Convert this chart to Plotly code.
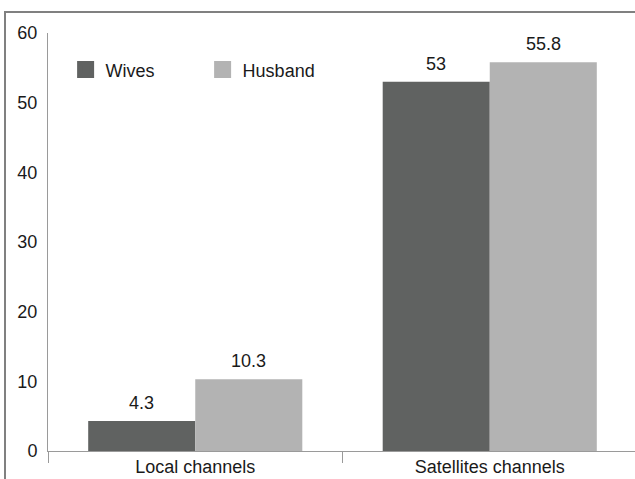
import plotly.graph_objects as go

categories = ["Local channels", "Satellites channels"]
wives = [4.3, 53]
husband = [10.3, 55.8]
series_names = ["Wives", "Husband"]
colors = ["#606261", "#b3b3b3"]
y_ticks = [0, 10, 20, 30, 40, 50, 60]

W, H = 635, 479
ml, mr, mt, mb = 48, 0, 33, 28
bargap = 0.273
plot_w = W - ml - mr
cat_px = 294.5
x_hi = -0.5 + plot_w / cat_px

FONT = "Liberation Sans, Arial, sans-serif"
FS = 18

fig = go.Figure()
for name, vals, col in zip(series_names, [wives, husband], colors):
    fig.add_trace(go.Bar(
        x=categories, y=vals, name=name, marker=dict(color=col, line=dict(width=0)),
        showlegend=False, xaxis="x", yaxis="y",
    ))
    # legend-only proxies on hidden axes (bigger legend squares)
    fig.add_trace(go.Bar(
        x=[None], y=[None], name=name,
        marker=dict(color=col, line=dict(color=col, width=5)),
        showlegend=True, xaxis="x2", yaxis="y2",
    ))

half = (1 - bargap) / 4
annotations = []
for i, cat in enumerate(categories):
    for off, vals in [(-half, wives), (half, husband)]:
        annotations.append(dict(
            x=i + off, y=vals[i], xref="x", yref="y", text=f"{vals[i]:g}",
            showarrow=False, yanchor="bottom", yshift=6,
            font=dict(family=FONT, size=FS, color="#1a1a1a"),
        ))

fig.update_layout(
    width=W, height=H,
    margin=dict(l=ml, r=mr, t=mt, b=mb, pad=0),
    paper_bgcolor="white", plot_bgcolor="white",
    barmode="group", bargap=bargap, bargroupgap=0,
    font=dict(family=FONT, size=FS, color="#1a1a1a"),
    xaxis=dict(
        type="category", range=[-0.5, x_hi], showgrid=False,
        showline=True, linecolor="#9a9a9a", linewidth=1,
        ticks="outside", tickson="boundaries", ticklen=11, tickcolor="#9a9a9a",
        ticklabelstandoff=-1,
        tickfont=dict(family=FONT, size=FS, color="#1a1a1a"),
        zeroline=False,
    ),
    yaxis=dict(
        range=[0, 60], tickvals=y_ticks, showgrid=False, zeroline=False,
        showline=True, linecolor="#9a9a9a", linewidth=1,
        ticks="", ticklabelstandoff=6,
        tickfont=dict(family=FONT, size=FS, color="#1a1a1a"),
    ),
    xaxis2=dict(overlaying="x", visible=False, range=[0, 1]),
    yaxis2=dict(overlaying="y", visible=False, range=[0, 1]),
    legend=dict(
        orientation="h", x=0.03, y=0.912, xanchor="left", yanchor="middle",
        bgcolor="rgba(0,0,0,0)", entrywidth=92, entrywidthmode="pixels",
        font=dict(family=FONT, size=FS, color="#1a1a1a"),
    ),
    annotations=annotations,
    shapes=[dict(
        type="rect", xref="paper", yref="paper",
        x0=(5 - ml) / plot_w, x1=1.05,
        y0=-0.2, y1=1 + (mt - 12) / (H - mt - mb),
        line=dict(color="#808080", width=2), fillcolor="rgba(0,0,0,0)", layer="above",
    )],
)

fig.write_html("out.html")
